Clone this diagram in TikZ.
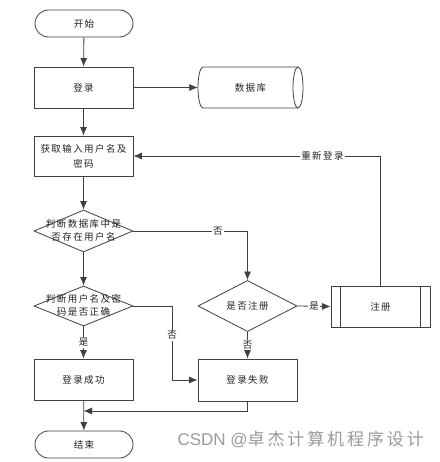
\documentclass[tikz,border=0pt]{standalone}
\usepackage{fontspec}
\setmainfont{Noto Sans CJK SC}[LetterSpace=15]
\newfontfamily\wmfont{Noto Sans CJK SC}[LetterSpace=17]
\newfontfamily\wmlat{Liberation Sans}
\usetikzlibrary{shapes.geometric,arrows.meta}
\definecolor{ln}{HTML}{404040}
\definecolor{tx}{HTML}{222222}
\definecolor{wm}{HTML}{9A9A9A}
\begin{document}
\begin{tikzpicture}[x=1pt,y=-1pt,
  every node/.style={font=\fontsize{9.5}{13}\selectfont, text=tx},
  box/.style={draw=ln, line width=0.8pt, rectangle, minimum width=99pt, minimum height=41pt, inner sep=0pt, align=center},
  term/.style={box, rounded corners=13.5pt, minimum width=98pt, minimum height=27pt},
  dia/.style={draw=ln, line width=0.8pt, diamond, minimum width=99pt, minimum height=41pt, inner sep=0pt},
  conn/.style={draw=ln, line width=0.8pt},
  arr/.style={conn, -{Latex[length=8.5pt,width=7pt]}},
  lbl/.style={fill=white, inner sep=1pt},
]
\useasboundingbox[fill=white] (0,0) rectangle (439,462);

\node[term] (start) at (84,23.5) {开始};
\node[box] (login) at (83.5,87.5) {登录};
\node[minimum width=105pt, minimum height=41pt, inner sep=0pt] (db) at (250.5,87.5) {数据库};
\node[box, minimum height=40pt] (input) at (83.5,156) {获取输入用户名及\\[2pt]密码};
\node[dia, minimum height=42pt] (d1) at (83.5,231) {\makebox[0pt]{\begin{tabular}{@{}c@{}}判断数据库中是\\否存在用户名\end{tabular}}};
\node[dia, minimum height=40pt] (d2) at (83.5,306) {\makebox[0pt]{\begin{tabular}{@{}c@{}}判断用户名及密\\码是否正确\end{tabular}}};
\node[box] (succ) at (83.5,379.5) {登录成功};
\node[term] (end) at (84,444.5) {结束};
\node[dia, minimum height=40pt] (d3) at (247.5,306) {是否注册};
\node[box] (reg) at (380.5,306.5) {注册};
\node[box, minimum height=42pt] (fail) at (247.5,380) {登录失败};

% database cylinder
\draw[ln, line width=0.8pt] (298,67) -- (203,67) arc[start angle=90, end angle=270, x radius=5pt, y radius=20.5pt] -- (298,108);
\draw[ln, line width=0.8pt] (298,87.5) ellipse [x radius=5pt, y radius=20.5pt];

% predefined process inner lines
\draw[conn] ([xshift=10pt]reg.north west) -- ([xshift=10pt]reg.south west);
\draw[conn] ([xshift=-10pt]reg.north east) -- ([xshift=-10pt]reg.south east);

\coordinate (k) at (172,306);
\coordinate (j) at (83.5,411);

\draw[arr] (start) -- (login);
\draw[arr] (login) -- (db.west);
\draw[arr] (login) -- (input);
\draw[arr] (input) -- (d1);
\draw[arr] (d1) -- (d2);
\draw[arr] (d1.east) -- node[lbl, pos=0.74]{否} (d1.east -| d3.north) -- (d3.north);
\draw[arr] (d2.south) -- node[lbl]{是} (succ.north);
\draw[arr] (d2.east) -- (k) -- node[lbl, pos=0.4]{否} (k |- fail.west) -- (fail.west);
\draw[arr] (d3.east) -- node[lbl]{是} (reg.west);
\draw[arr] (d3.south) -- node[lbl]{否} (fail.north);
\draw[arr] (reg.north) -- (reg.north |- input.east) -- node[lbl, pos=0.235]{重新登录} (input.east);
\draw[arr] (succ) -- (end);
\draw[arr] (fail.south) |- (j);

\node[font=\fontsize{17}{19}\selectfont, text=wm, anchor=east, inner sep=0pt] (wm) at (424,439) {{\wmlat CSDN @}{\wmfont 卓杰计算机程序设计}};
\end{tikzpicture}
\end{document}
